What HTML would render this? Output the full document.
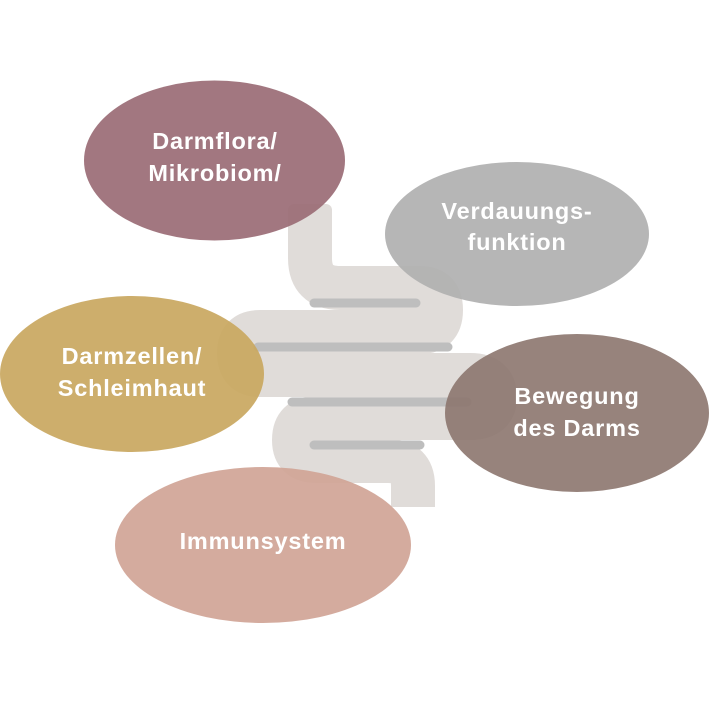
<!DOCTYPE html>
<html><head><meta charset="utf-8"><style>
html,body{margin:0;padding:0;background:#fff;}
svg{display:block}
text{font-family:"Liberation Sans",sans-serif;font-weight:bold;fill:#fff;font-size:23.5px;letter-spacing:0.8px;text-anchor:middle;}
</style></head><body>
<svg width="709" height="709" viewBox="0 0 709 709" xmlns="http://www.w3.org/2000/svg">
<rect width="709" height="709" fill="#fff"/>
<path d="M310,212 V258 Q310,288 340,288 H420 Q441,288 441,310 Q441,332 420,332 H260 Q239,332 239,353 Q239,375 260,375 H470 Q495,375 495,397 Q495,418 470,418 H316 Q294,418 294,440 Q294,461 316,461 H388 Q413,461 413,486 V507" fill="none" stroke="#e0dcd9" stroke-width="44" stroke-linejoin="round"/>
<rect x="288" y="204" width="44" height="20" rx="6" fill="#e0dcd9"/>
<g stroke="#bebebe" stroke-width="9" stroke-linecap="round">
<line x1="314" y1="303" x2="416" y2="303"/>
<line x1="258" y1="347" x2="448" y2="347"/>
<line x1="292" y1="402" x2="467" y2="402"/>
<line x1="314" y1="445" x2="420" y2="445"/>
</g>
<ellipse cx="214.5" cy="160.5" rx="130.5" ry="80" fill="#9a6b75" fill-opacity="0.92"/>
<ellipse cx="517" cy="234" rx="132" ry="72" fill="#b0b0b0" fill-opacity="0.92"/>
<ellipse cx="132" cy="374" rx="132" ry="78" fill="#c9a75f" fill-opacity="0.92"/>
<ellipse cx="577" cy="413" rx="132" ry="79" fill="#8c766e" fill-opacity="0.9"/>
<ellipse cx="263" cy="545" rx="148" ry="78" fill="#d0a496" fill-opacity="0.92"/>
<text x="215" y="149">Darmflora/</text>
<text x="215" y="181">Mikrobiom/</text>
<text x="517" y="219">Verdauungs-</text>
<text x="517" y="250">funktion</text>
<text x="132" y="364">Darmzellen/</text>
<text x="132" y="396">Schleimhaut</text>
<text x="577" y="404">Bewegung</text>
<text x="577" y="436">des Darms</text>
<text x="263" y="549">Immunsystem</text>
</svg>
</body></html>
